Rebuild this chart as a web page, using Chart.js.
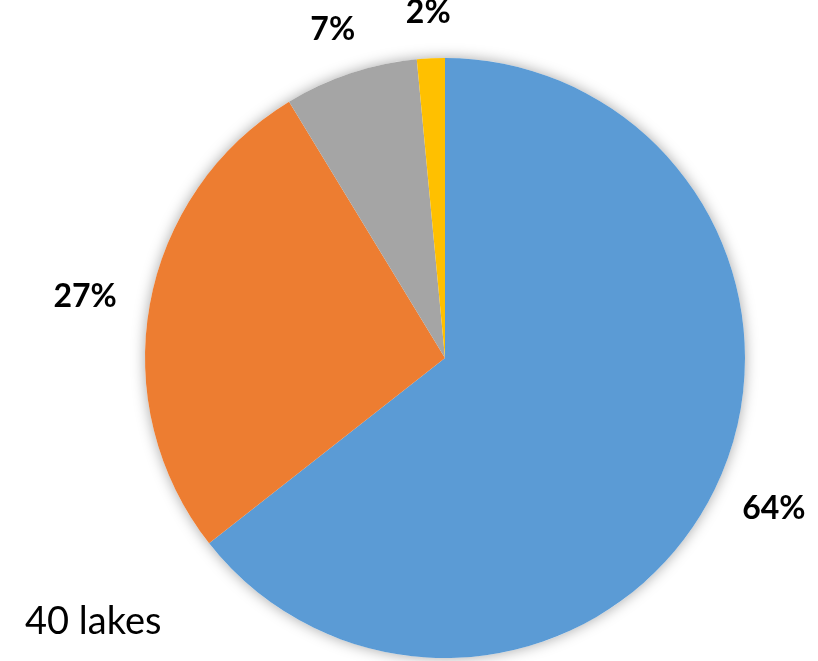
<!DOCTYPE html>
<html>
<head>
<meta charset="utf-8">
<script src="https://cdn.jsdelivr.net/npm/chart.js@4"></script>
<style>
  html, body { margin: 0; padding: 0; background: #fff; }
  #wrap { position: relative; width: 818px; height: 661px; overflow: hidden; }
  #note { position: absolute; left: 25px; top: 596px; font-family: Lato, sans-serif; font-size: 38px; color: #000; }
</style>
</head>
<body>
<div id="wrap">
  <canvas id="pieChart" width="818" height="661"></canvas>
  <div id="note">40 lakes</div>
</div>
<script>
const categories = ["A", "B", "C", "D"];
const shares = [64.4, 26.9, 7.2, 1.5];
const shareLabels = ["64%", "27%", "7%", "2%"];
const sliceColors = ["#5B9BD5", "#ED7D31", "#A5A5A5", "#FFC000"];

// soft shadow under the whole pie
const pieShadow = {
  id: "pieShadow",
  beforeDatasetsDraw(chart) {
    const arc = chart.getDatasetMeta(0).data[0];
    if (!arc) return;
    const ctx = chart.ctx;
    ctx.save();
    ctx.shadowColor = "rgba(0,0,0,0.35)";
    ctx.shadowBlur = 14;
    ctx.fillStyle = "#fff";
    ctx.beginPath();
    ctx.arc(arc.x, arc.y, arc.outerRadius, 0, Math.PI * 2);
    ctx.fill();
    ctx.restore();
  }
};

// percentage labels outside the slices, box kept a fixed gap from the edge
const outsideLabels = {
  id: "outsideLabels",
  afterDatasetsDraw(chart) {
    const ctx = chart.ctx;
    ctx.save();
    ctx.font = "bold 32px Lato, sans-serif";
    ctx.fillStyle = "#000";
    ctx.textAlign = "center";
    ctx.textBaseline = "middle";
    const gap = 34;
    const h = 23;
    chart.getDatasetMeta(0).data.forEach((arc, i) => {
      const mid = (arc.startAngle + arc.endAngle) / 2;
      const dx = Math.cos(mid), dy = Math.sin(mid);
      const w = ctx.measureText(shareLabels[i]).width;
      const r = arc.outerRadius + gap;
      const x = arc.x + dx * r + dx * w / 2;
      const y = arc.y + dy * r + dy * h / 2;
      ctx.fillText(shareLabels[i], x, y);
    });
    ctx.restore();
  }
};

new Chart(document.getElementById("pieChart"), {
  type: "pie",
  data: {
    labels: categories,
    datasets: [{
      data: shares,
      backgroundColor: sliceColors,
      borderWidth: 0
    }]
  },
  options: {
    responsive: false,
    animation: false,
    layout: { padding: { left: 145, right: 73, top: 58, bottom: 3 } },
    plugins: {
      legend: { display: false },
      tooltip: { enabled: false }
    }
  },
  plugins: [pieShadow, outsideLabels]
});
</script>
</body>
</html>
